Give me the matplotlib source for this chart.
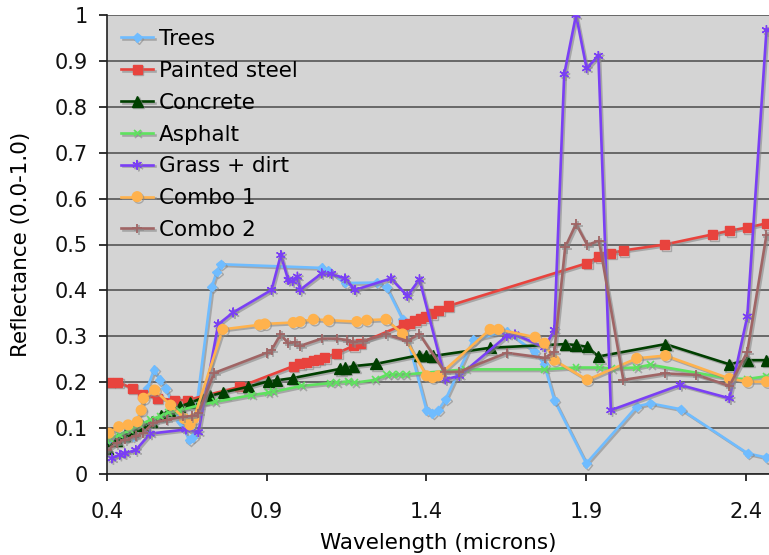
import matplotlib
matplotlib.use("Agg")
import matplotlib.pyplot as plt
import matplotlib.patheffects as pe

# ---- data ----
trees_x = [0.40, 0.43, 0.46, 0.48, 0.505, 0.526, 0.547, 0.565, 0.584, 0.60, 0.63, 0.657, 0.668,
           0.728, 0.743, 0.756, 1.072, 1.092, 1.145, 1.244, 1.275, 1.325, 1.40, 1.418, 1.437,
           1.46, 1.547, 1.651, 1.737, 1.768, 1.80, 1.90, 2.058, 2.10, 2.196, 2.405, 2.463]
trees_y = [0.07, 0.075, 0.08, 0.082, 0.14, 0.187, 0.227, 0.205, 0.187, 0.16, 0.115, 0.074, 0.08,
           0.408, 0.44, 0.457, 0.449, 0.443, 0.416, 0.417, 0.407, 0.337, 0.139, 0.132, 0.139,
           0.163, 0.293, 0.31, 0.267, 0.24, 0.161, 0.023, 0.147, 0.154, 0.141, 0.045, 0.036]

steel_x = [0.406, 0.434, 0.479, 0.51, 0.557, 0.61, 0.651, 0.816, 0.983, 1.004, 1.025, 1.046,
           1.062, 1.082, 1.119, 1.171, 1.192, 1.327, 1.346, 1.364, 1.38, 1.398, 1.416, 1.437,
           1.468, 1.901, 1.938, 1.977, 2.016, 2.146, 2.295, 2.348, 2.404, 2.464]
steel_y = [0.20, 0.20, 0.187, 0.174, 0.165, 0.161, 0.161, 0.19, 0.235, 0.24, 0.243, 0.247,
           0.25, 0.254, 0.263, 0.279, 0.285, 0.325, 0.328, 0.334, 0.338, 0.343, 0.35, 0.357,
           0.366, 0.459, 0.473, 0.481, 0.487, 0.50, 0.522, 0.53, 0.537, 0.546]

concrete_x = [0.40, 0.43, 0.456, 0.48, 0.51, 0.54, 0.57, 0.597, 0.628, 0.66, 0.696, 0.722, 0.764,
              0.842, 0.905, 0.931, 0.981, 1.129, 1.145, 1.171, 1.242, 1.378, 1.398, 1.419,
              1.599, 1.834, 1.868, 1.903, 1.938, 2.148, 2.348, 2.404, 2.464]
concrete_y = [0.056, 0.074, 0.085, 0.092, 0.105, 0.115, 0.128, 0.139, 0.147, 0.155, 0.165, 0.17, 0.178,
              0.19, 0.202, 0.204, 0.209, 0.229, 0.231, 0.235, 0.24, 0.259, 0.259, 0.257,
              0.275, 0.283, 0.281, 0.277, 0.256, 0.283, 0.239, 0.248, 0.248]

asphalt_x = [0.40, 0.409, 0.44, 0.472, 0.503, 0.535, 0.566, 0.592, 0.628, 0.691, 0.738, 0.853,
             0.905, 0.92, 1.009, 1.098, 1.119, 1.155, 1.176, 1.239, 1.275, 1.294, 1.315, 1.336,
             1.523, 1.769, 1.868, 1.94, 1.98, 2.058, 2.101, 2.348, 2.404, 2.464]
asphalt_y = [0.074, 0.078, 0.085, 0.096, 0.107, 0.118, 0.126, 0.134, 0.139, 0.15, 0.157, 0.172,
             0.177, 0.179, 0.192, 0.198, 0.199, 0.202, 0.199, 0.205, 0.216, 0.217, 0.217, 0.217,
             0.228, 0.228, 0.232, 0.232, 0.23, 0.232, 0.238, 0.208, 0.207, 0.213]

grass_x = [0.415, 0.44, 0.456, 0.49, 0.535, 0.647, 0.686, 0.748, 0.795, 0.915, 0.944, 0.967,
           0.981, 0.996, 1.004, 1.072, 1.103, 1.145, 1.176, 1.289, 1.34, 1.378, 1.459, 1.503,
           1.651, 1.677, 1.77, 1.80, 1.831, 1.868, 1.901, 1.938, 1.977, 2.194, 2.348, 2.404, 2.464]
grass_y = [0.034, 0.042, 0.045, 0.052, 0.088, 0.097, 0.091, 0.326, 0.352, 0.401, 0.477, 0.423,
           0.42, 0.43, 0.401, 0.437, 0.436, 0.426, 0.401, 0.426, 0.388, 0.424, 0.206, 0.214,
           0.301, 0.304, 0.276, 0.314, 0.871, 1.0, 0.884, 0.911, 0.139, 0.194, 0.165, 0.343, 0.967]

combo1_x = [0.406, 0.437, 0.466, 0.495, 0.507, 0.514, 0.549, 0.599, 0.641, 0.66, 0.672, 0.762,
            0.877, 0.894, 0.983, 1.004, 1.046, 1.093, 1.182, 1.213, 1.273, 1.325, 1.40, 1.419,
            1.437, 1.599, 1.625, 1.74, 1.769, 1.80, 1.903, 2.058, 2.148, 2.348, 2.404, 2.464]
combo1_y = [0.089, 0.103, 0.107, 0.114, 0.139, 0.165, 0.183, 0.15, 0.121, 0.107, 0.121, 0.315,
            0.325, 0.327, 0.33, 0.332, 0.337, 0.335, 0.332, 0.335, 0.337, 0.305, 0.214, 0.21,
            0.214, 0.315, 0.315, 0.298, 0.285, 0.248, 0.205, 0.252, 0.258, 0.208, 0.201, 0.201]

combo2_x = [0.40, 0.43, 0.456, 0.49, 0.514, 0.545, 0.587, 0.639, 0.665, 0.686, 0.735, 0.90,
            0.915, 0.943, 0.967, 0.988, 1.004, 1.072, 1.119, 1.15, 1.171, 1.202, 1.273, 1.34,
            1.378, 1.457, 1.503, 1.651, 1.77, 1.80, 1.834, 1.868, 1.903, 1.94, 2.016, 2.146,
            2.245, 2.348, 2.404, 2.464]
combo2_y = [0.052, 0.067, 0.075, 0.083, 0.09, 0.112, 0.118, 0.125, 0.126, 0.132, 0.22, 0.264,
            0.27, 0.304, 0.285, 0.287, 0.279, 0.295, 0.295, 0.292, 0.288, 0.29, 0.304, 0.29,
            0.305, 0.222, 0.223, 0.264, 0.253, 0.266, 0.494, 0.545, 0.499, 0.508, 0.205, 0.219,
            0.216, 0.192, 0.266, 0.521]

series_names = ["Trees", "Painted steel", "Concrete", "Asphalt", "Grass + dirt", "Combo 1", "Combo 2"]
x_ticks = [0.4, 0.9, 1.4, 1.9, 2.4]
y_ticks = [0, 0.1, 0.2, 0.3, 0.4, 0.5, 0.6, 0.7, 0.8, 0.9, 1.0]
y_tick_labels = ["0", "0.1", "0.2", "0.3", "0.4", "0.5", "0.6", "0.7", "0.8", "0.9", "1"]

# ---- plotting ----
plt.rcParams['font.family'] = ['DejaVu Sans']
fig = plt.figure(figsize=(7.69, 5.55), dpi=100)
ax = fig.add_axes([107/769, 81/555, 662/769, 459/555])
ax.set_facecolor('#d4d4d4')

styles = [
    dict(color='#6fbcff', marker='D', ms=4.5),
    dict(color='#e8433d', marker='s', ms=6.5),
    dict(color='#003f00', marker='^', ms=8),
    dict(color='#5fe25f', marker='x', ms=5, mew=1.2),
    dict(color='#7a3ff5', marker=(6, 2, 0), ms=7, mew=1.0),
    dict(color='#ffb24d', marker='o', ms=7),
    dict(color='#a06565', marker='+', ms=7, mew=1.3),
]
data = [(trees_x, trees_y), (steel_x, steel_y), (concrete_x, concrete_y), (asphalt_x, asphalt_y),
        (grass_x, grass_y), (combo1_x, combo1_y), (combo2_x, combo2_y)]

shadow = [pe.SimpleLineShadow(offset=(1.2, -1.2), shadow_color='#888888', alpha=0.6), pe.Normal()]
for (xs, ys), st, name in zip(data, styles, series_names):
    ax.plot(xs, ys, lw=1.9, label=name, clip_on=True, path_effects=shadow, **st)

ax.set_xlim(0.4, 0.4 + 662/319.5)
ax.set_ylim(0, 1.0)
ax.set_xticks(x_ticks)
ax.set_xticklabels([f"{v:.1f}" for v in x_ticks])
ax.set_yticks(y_ticks)
ax.set_yticklabels(y_tick_labels)
ax.yaxis.grid(True, color='#555555', lw=1.2)
ax.set_axisbelow(True)
for s in ['top', 'right']:
    ax.spines[s].set_visible(False)
for s in ['left', 'bottom']:
    ax.spines[s].set_color('#222222')
    ax.spines[s].set_linewidth(1.2)
ax.tick_params(axis='both', labelsize=15, colors='#111111', width=1.2)
ax.tick_params(axis='x', length=5, pad=15)
ax.tick_params(axis='y', length=6, pad=8)

ax.set_xlabel("Wavelength (microns)", fontsize=15.5, labelpad=8)
ax.set_ylabel("Reflectance (0.0-1.0)", fontsize=15.5, labelpad=17)

leg = ax.legend(loc='upper left', frameon=False, fontsize=15.5, handlelength=1.5,
                labelspacing=0.55, borderaxespad=0.2, handletextpad=0.25, borderpad=0.45,
                bbox_to_anchor=(0.0, 1.0))
fig.savefig("out.png", dpi=100)
